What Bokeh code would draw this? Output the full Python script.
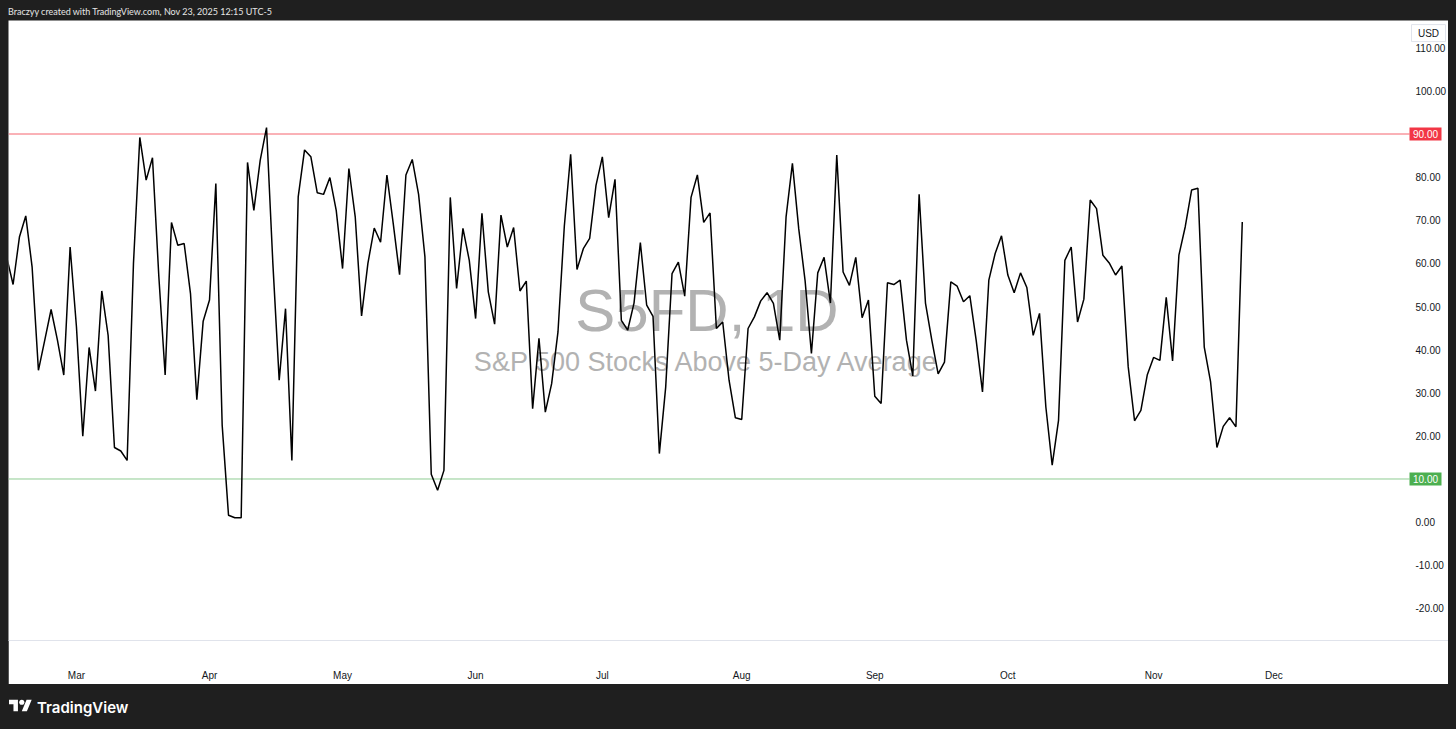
import pandas as pd
from bokeh.plotting import figure
from bokeh.models import Range1d, FixedTicker, Label, Div, ColumnDataSource
from bokeh.core.properties import value
from bokeh.layouts import column
from bokeh.embed import file_html
from bokeh.resources import INLINE

# ---------------- data ----------------
s5fd = [
    61.4, 55.1, 66.1, 71.0, 59.2, 35.2, 42.2, 49.3, 42.2, 34.1,
    63.8, 45.3, 19.9, 40.5, 30.4, 53.6, 43.3, 17.3, 16.5, 14.3,
    60.0, 89.2, 79.3, 84.5, 57.0, 34.1, 69.5, 64.2, 64.6, 53.0,
    28.4, 46.6, 51.5, 78.5, 22.5, 1.6, 1.0, 1.0, 83.4, 72.3,
    83.9, 91.5, 60.0, 32.9, 49.5, 14.3, 75.4, 86.3, 84.7, 76.4,
    76.0, 79.9, 72.3, 58.8, 82.0, 70.8, 47.8, 60.0, 68.2, 64.9,
    80.5, 69.2, 57.4, 80.5, 84.1, 76.0, 61.5, 11.1, 7.4, 12.0,
    75.3, 54.2, 68.1, 60.7, 47.2, 71.6, 53.4, 45.9, 71.2, 63.8,
    68.3, 53.6, 55.9, 26.3, 42.6, 25.5, 32.1, 44.1, 68.6, 85.3,
    58.6, 63.4, 65.8, 78.1, 84.7, 70.6, 79.5, 46.8, 44.5, 50.8,
    64.8, 50.3, 47.7, 15.9, 31.3, 57.6, 60.3, 52.4, 75.3, 80.5,
    69.5, 71.7, 44.9, 46.4, 32.9, 24.2, 23.8, 44.9, 47.6, 51.3,
    53.2, 50.7, 42.2, 70.8, 83.2, 68.0, 56.0, 39.1, 57.8, 61.4,
    50.8, 85.1, 58.0, 54.9, 61.4, 47.4, 51.5, 29.2, 27.5, 55.5,
    55.1, 56.1, 42.2, 33.9, 76.0, 50.8, 42.2, 34.4, 37.1, 55.7,
    54.7, 51.1, 52.5, 42.2, 30.2, 56.1, 62.3, 66.4, 57.3, 53.2,
    57.8, 54.4, 43.3, 48.4, 26.7, 13.2, 23.6, 60.7, 63.8, 46.4,
    51.7, 74.7, 72.7, 61.9, 60.1, 57.3, 59.4, 36.0, 23.5, 25.9,
    34.1, 38.2, 37.5, 52.1, 37.4, 61.9, 68.5, 77.0, 77.4, 40.6,
    32.5, 17.3, 22.2, 24.2, 22.1, 69.6,
]
start_date = "2025-02-13"
market_holidays = ["2025-02-17", "2025-04-18", "2025-05-26", "2025-06-19",
                   "2025-07-04", "2025-09-01", "2025-11-27", "2025-12-25"]
month_names = ["Mar", "Apr", "May", "Jun", "Jul", "Aug", "Sep", "Oct", "Nov", "Dec"]
y_ticks = [-20, -10, 0, 10, 20, 30, 40, 50, 60, 70, 80, 90, 100, 110]
levels = [90, 10]
level_colors = ["#f23645", "#4caf50"]
level_line_colors = ["#f5646f", "#8fcc92"]
symbol_text = "S5FD, 1D"
description_text = "S&P 500 Stocks Above 5-Day Average"
header_text = "Braczyy created with TradingView.com, Nov 23, 2025 12:15 UTC-5"
currency_text = "USD"

# ---------------- trading-day index ----------------
bday = pd.offsets.CustomBusinessDay(holidays=market_holidays)
dates = pd.date_range(start_date, periods=len(s5fd) + 30, freq=bday)
idx = list(range(len(s5fd)))
month_first = {}
for i, d in enumerate(dates):
    key = d.strftime("%b")
    if key in month_names and key not in month_first:
        month_first[key] = i
month_ticks = [month_first[m] for m in month_names if m in month_first]
month_labels = {month_first[m]: m for m in month_names if m in month_first}

# ---------------- geometry ----------------
FRAME_W = 1440          # frame spans the whole white pane incl. price scale
PX_PER_BAR = 6.336
X0 = 0.276
X1 = X0 + FRAME_W / PX_PER_BAR
Y0, Y1 = -27.45, 116.32
DARK = "#1f1f1f"


def xi(px):
    """horizontal screen offset from the frame's left edge -> bar index"""
    return X0 + px / PX_PER_BAR


SCALE_LEFT = 1397       # left edge of the price scale inside the frame
x_scale_text = xi(SCALE_LEFT + 10)
x_box = xi(SCALE_LEFT + 20)
x_usd = xi(SCALE_LEFT + 23)
x_line_end = xi(SCALE_LEFT + 4)

p = figure(width=1440, height=664, x_range=Range1d(X0, X1), y_range=Range1d(Y0, Y1),
           output_backend="svg", toolbar_location=None, y_axis_location=None,
           min_border_left=0, min_border_right=0, min_border_top=0, min_border_bottom=44,
           background_fill_color="white", border_fill_color="white",
           outline_line_color=None)
p.margin = (0, 8, 0, 8)
p.xgrid.visible = False
p.ygrid.visible = False

# watermark
xc = xi(SCALE_LEFT / 2)
p.add_layout(Label(x=xc, y=49.0, text=symbol_text, text_align="center", text_baseline="middle",
                   text_font="Liberation Sans", text_font_size="60px", text_color="#b2b2b2",
                   level="underlay"))
p.add_layout(Label(x=xc, y=37.2, text=description_text, text_align="center", text_baseline="middle",
                   text_font="Liberation Sans", text_font_size="27px", text_color="#b2b2b2",
                   level="underlay"))

# level lines
p.segment(x0=[X0, X0], y0=levels, x1=[x_line_end, x_line_end], y1=levels,
          line_color=level_line_colors, line_width=1)

# series
src = ColumnDataSource(dict(x=idx, y=s5fd))
p.line("x", "y", source=src, line_color="#000000", line_width=1.5)

# price scale labels
scale_vals = [v for v in y_ticks if v not in levels]
p.text(x=[x_scale_text] * len(scale_vals), y=scale_vals,
       text=[f"{v:.2f}" for v in scale_vals], text_align="left", text_baseline="middle",
       text_font=value("Liberation Sans"), text_font_size="10px", text_color="#131722")

# level tags on the price scale
p.rect(x=[x_box] * len(levels), y=levels, width=32, height=13, width_units="screen",
       height_units="screen", fill_color=level_colors, line_color=None)
p.text(x=[x_box] * len(levels), y=levels, text=[f"{v:.2f}" for v in levels],
       text_align="center", text_baseline="middle", text_font=value("Liberation Sans"),
       text_font_size="10px", text_color="white")

# currency badge
p.rect(x=[x_usd], y=[113.4], width=34, height=17, width_units="screen", height_units="screen",
       fill_color="white", line_color="#e0e3eb", line_width=1)
p.text(x=[x_usd], y=[113.4], text=[currency_text], text_align="center", text_baseline="middle",
       text_font=value("Liberation Sans"), text_font_size="10px", text_color="#131722")

# time axis
xa = p.xaxis[0]
xa.ticker = FixedTicker(ticks=month_ticks)
xa.major_label_overrides = month_labels
xa.axis_line_color = "#e0e3eb"
xa.major_tick_line_color = None
xa.minor_tick_line_color = None
xa.major_tick_out = 0
xa.major_tick_in = 0
xa.major_label_standoff = 29
xa.major_label_text_font = "Liberation Sans"
xa.major_label_text_font_size = "10px"
xa.major_label_text_color = "#131722"

header = Div(
    text=('<div style="position:absolute;left:0px;top:0px;width:1456px;height:729px;'
          'background:' + DARK + ';z-index:-1"></div>'
          '<span style="position:absolute;left:8px;top:6px;font-family:Lato;font-size:9px;'
          'color:#e6e6e6;white-space:nowrap">' + header_text + '</span>'),
    width=1456, height=20, margin=0,
    styles={"background-color": DARK})

logo_svg = ('<svg style="position:absolute;left:9px;top:15px" width="23" height="13" '
            'viewBox="0 3 36 20"><path d="M14 22H7V11H0V4h14v18zM28 22h-8l7.5-18h8L28 22z" '
            'fill="#ffffff"/><circle cx="20" cy="8" r="4" fill="#ffffff"/></svg>')
footer = Div(
    text=('<div style="position:relative;width:1456px;height:45px">' + logo_svg +
          '<span style="position:absolute;left:37px;top:13px;font-family:Inter;font-weight:600;'
          'font-size:15px;color:#ffffff;white-space:nowrap">TradingView</span></div>'),
    width=1456, height=45, margin=0,
    styles={"background-color": DARK})

layout = column(header, p, footer, spacing=0, margin=0)
open("out.html", "w").write(file_html(layout, INLINE))
